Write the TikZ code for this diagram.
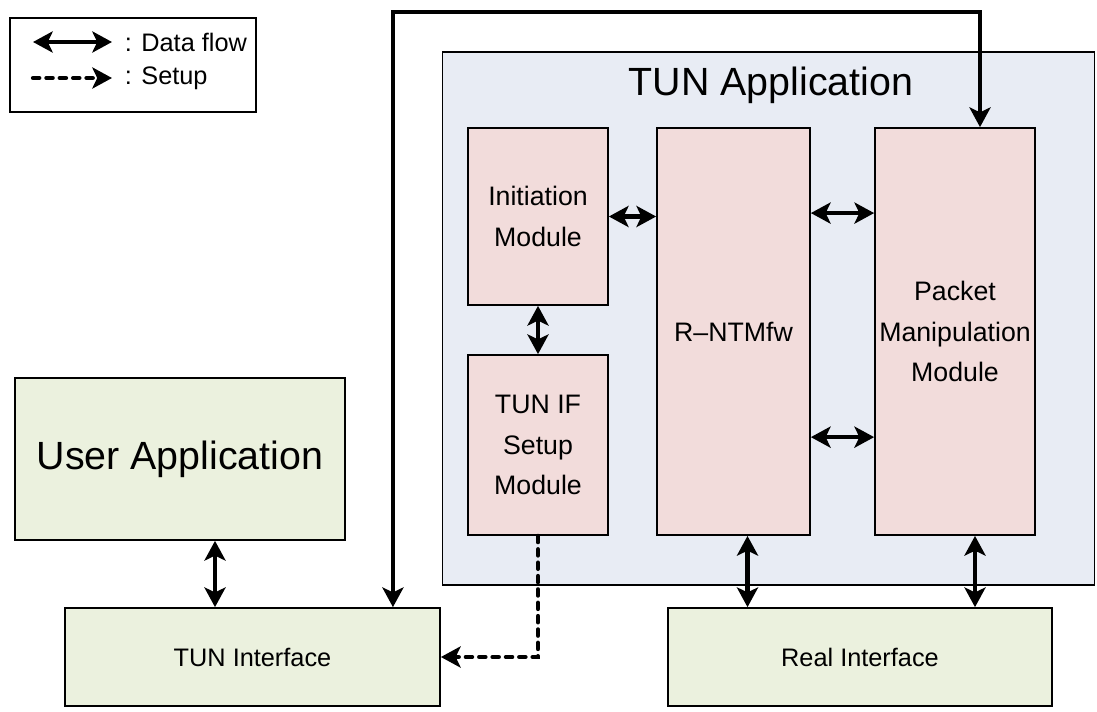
\documentclass[tikz,border=0pt]{standalone}
\usepackage{fontspec}
\setmainfont{Liberation Sans}
\usetikzlibrary{arrows.meta}

\definecolor{appblue}{HTML}{E8ECF4}
\definecolor{modpink}{HTML}{F2DCDB}
\definecolor{ifgreen}{HTML}{EBF1DE}

\tikzset{
  box/.style={draw=black, line width=1.2pt, align=center, inner sep=0pt,
    font=\fontsize{18}{28}\selectfont},
  modbox/.style={box, fill=modpink, font=\fontsize{19}{29}\selectfont},
  ifbox/.style={box, fill=ifgreen},
  dflow/.style={line width=3pt, {Stealth[length=14pt,width=15pt,inset=3.5pt]}-{Stealth[length=14pt,width=15pt,inset=3.5pt]}},
  sflow/.style={line width=3pt, line cap=round, dash pattern=on 4.5pt off 5pt,
    -{Stealth[length=14pt,width=15pt,inset=3.5pt]}}
}

\begin{document}
\begin{tikzpicture}[x=0.025cm, y=-0.025cm]
    \useasboundingbox (0,0) rectangle (1097,711);

    % 凡例
    \draw [line width=1.2pt] (10,18) rectangle (256,112);
    \coordinate (la1) at (33,42);  \coordinate (la2) at (112,42);
    \coordinate (lb1) at (33,78);  \coordinate (lb2) at (112,78);
    \draw [dflow] (la1) -- (la2);
    \draw [sflow] (lb1) -- (lb2);
    \node [anchor=west, font=\fontsize{18}{22}\selectfont] (lbla) at (120,42) {: Data flow};
    \node [anchor=west, font=\fontsize{18}{22}\selectfont] (lblb) at (120,78) {: Setup};

    % TUN Application
    \node [box, fill=appblue, minimum width=16.3cm, minimum height=13.325cm] (tunapp) at (768.5,318.5) {};
    \node [font=\fontsize{28}{32}\selectfont] (apptitle) at (771,85) {TUN Application};

    % モジュール
    \node [modbox, minimum width=3.5cm, minimum height=4.425cm] (init) at (538,216.5) {Initiation\\Module};
    \node [modbox, minimum width=3.5cm, minimum height=4.5cm] (setup) at (538,445) {TUN IF\\Setup\\Module};
    \node [modbox, minimum width=3.825cm, minimum height=10.175cm] (rntm) at (733.5,331.5) {R--NTMfw};
    \node [modbox, minimum width=4cm, minimum height=10.175cm] (pmm) at (955,331.5) {Packet\\Manipulation\\Module};

    % アプリケーションとインタフェース
    \node [ifbox, minimum width=8.25cm, minimum height=4.05cm, font=\fontsize{28}{32}\selectfont] (userapp) at (180,459) {User Application};
    \node [ifbox, minimum width=9.375cm, minimum height=2.45cm] (tunif) at (252.5,657) {TUN Interface};
    \node [ifbox, minimum width=9.6cm, minimum height=2.45cm] (realif) at (860,657) {Real Interface};

    % データの流れ
    \draw [dflow] (init.east) -- (init.east -| rntm.west);
    \draw [dflow] (init.south) -- (setup.north);
    \draw [dflow] ([yshift=2.96cm]rntm.east) -- ([yshift=2.96cm]rntm.east -| pmm.west);
    \draw [dflow] ([yshift=-2.64cm]rntm.east) -- ([yshift=-2.64cm]rntm.east -| pmm.west);
    \draw [dflow] ([xshift=0.875cm]userapp.south) -- ([xshift=0.875cm]userapp.south |- tunif.north);
    \draw [dflow] ([xshift=0.35cm]rntm.south) -- ([xshift=0.35cm]rntm.south |- realif.north);
    \draw [dflow] ([xshift=0.5cm]pmm.south) -- ([xshift=0.5cm]pmm.south |- realif.north);
    \coordinate (looptop) at (0,12);
    \draw [dflow] ([xshift=3.51cm]tunif.north) -- ([xshift=3.51cm]tunif.north |- looptop)
        -| ([xshift=0.625cm]pmm.north);

    % 設定
    \draw [sflow] (setup.south) |- (tunif.east);
\end{tikzpicture}
\end{document}
